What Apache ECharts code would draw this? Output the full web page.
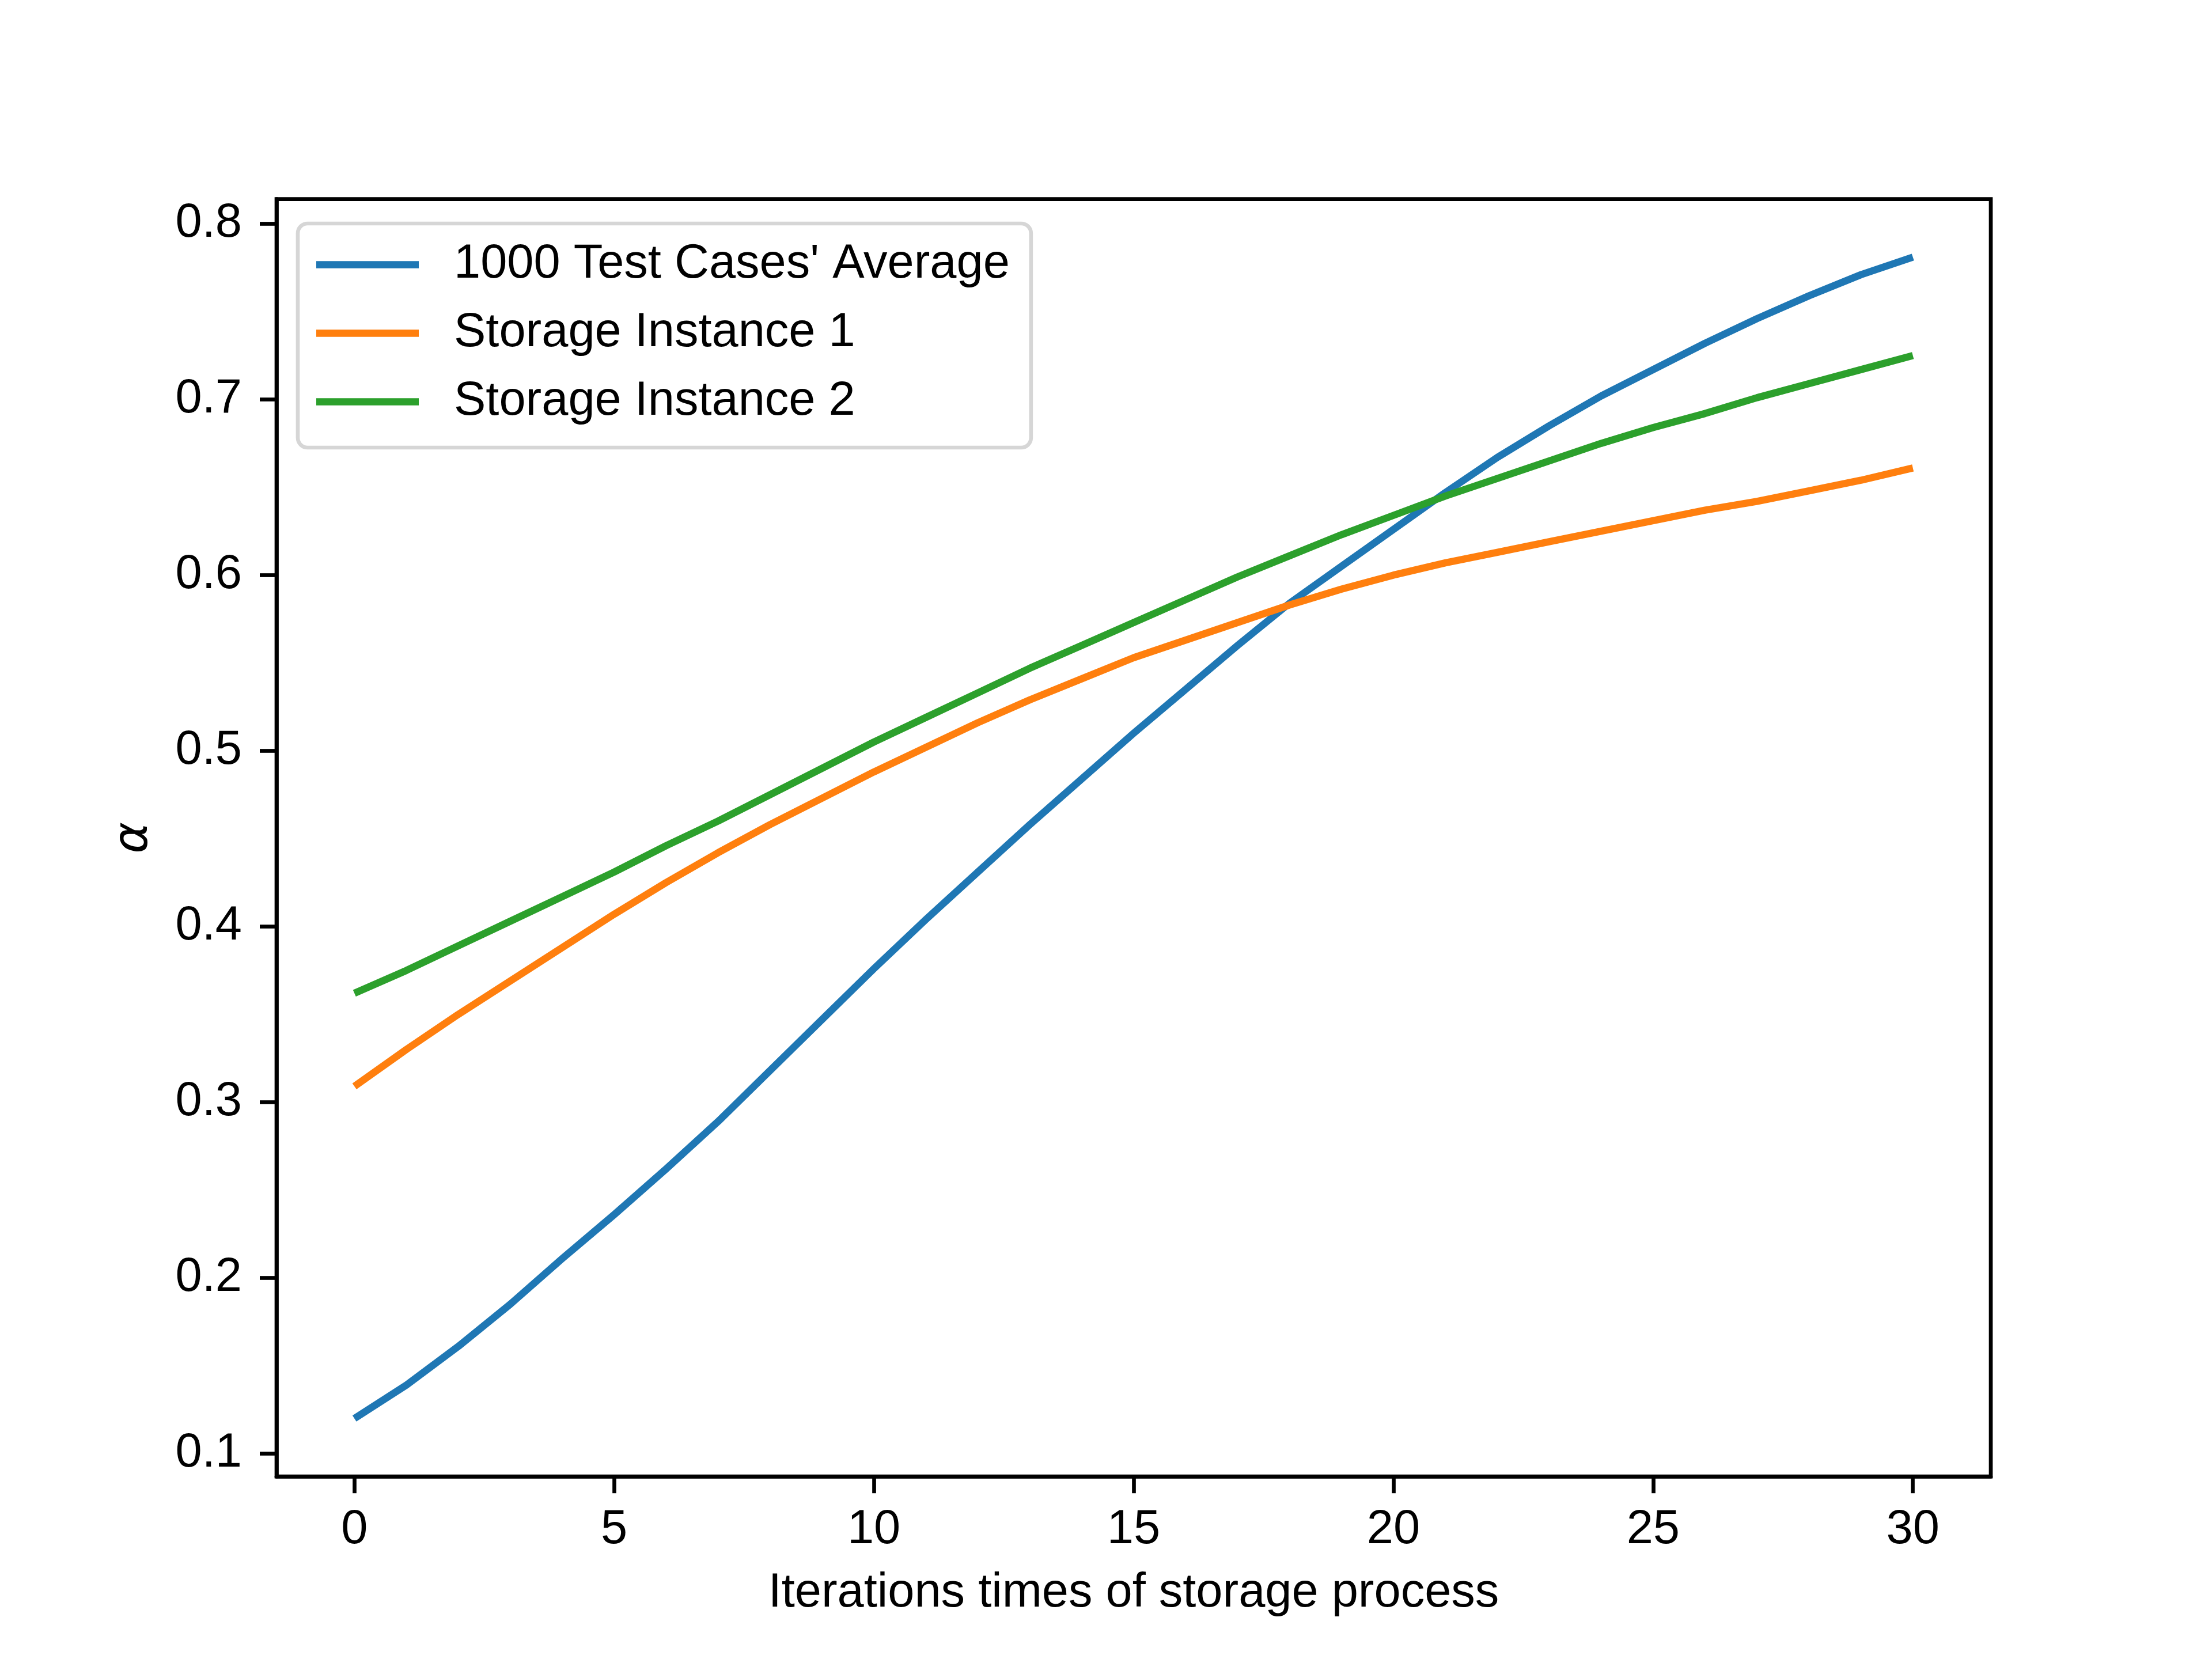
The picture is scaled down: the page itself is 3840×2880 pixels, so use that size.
<!DOCTYPE html>
<html>
<head>
<meta charset="utf-8">
<style>
  html, body { margin: 0; padding: 0; background: #fff; }
  #container { width: 3840px; height: 2880px; }
</style>
<script src="https://cdn.jsdelivr.net/npm/echarts@6/dist/echarts.min.js"></script>
</head>
<body>
<div id="container"></div>
<script>
// iterations of the storage process (x axis)
var iterations = [0, 1, 2, 3, 4, 5, 6, 7, 8, 9, 10, 11, 12, 13, 14, 15,
                  16, 17, 18, 19, 20, 21, 22, 23, 24, 25, 26, 27, 28, 29, 30];

var avgCases = [0.120, 0.139, 0.161, 0.185, 0.211, 0.236, 0.262, 0.289, 0.318, 0.347,
                0.376, 0.404, 0.431, 0.458, 0.484, 0.510, 0.535, 0.560, 0.584, 0.605,
                0.626, 0.647, 0.667, 0.685, 0.702, 0.717, 0.732, 0.746, 0.759, 0.771, 0.781];

var instance1 = [0.309, 0.330, 0.350, 0.369, 0.388, 0.407, 0.425, 0.442, 0.458, 0.473,
                 0.488, 0.502, 0.516, 0.529, 0.541, 0.553, 0.563, 0.573, 0.583, 0.592,
                 0.600, 0.607, 0.613, 0.619, 0.625, 0.631, 0.637, 0.642, 0.648, 0.654, 0.661];

var instance2 = [0.362, 0.375, 0.389, 0.403, 0.417, 0.431, 0.446, 0.460, 0.475, 0.490,
                 0.505, 0.519, 0.533, 0.547, 0.560, 0.573, 0.586, 0.599, 0.611, 0.623,
                 0.634, 0.645, 0.655, 0.665, 0.675, 0.684, 0.692, 0.701, 0.709, 0.717, 0.725];

var seriesNames = ["1000 Test Cases' Average", 'Storage Instance 1', 'Storage Instance 2'];
var seriesColors = ['#1f77b4', '#ff7f0e', '#2ca02c'];

var xTicks = [0, 5, 10, 15, 20, 25, 30];
var yTicks = [0.1, 0.2, 0.3, 0.4, 0.5, 0.6, 0.7, 0.8];

var font = 'Liberation Sans';

function pairs(ys) {
    return iterations.map(function (x, i) { return [x, ys[i]]; });
}

function makeSeries(name, ys, color) {
    return {
        name: name,
        type: 'line',
        data: pairs(ys),
        symbol: 'none',
        smooth: false,
        lineStyle: { color: color, width: 12.5, join: 'round' },
        itemStyle: { color: color },
        emphasis: { disabled: true }
    };
}

var dom = document.getElementById('container');
var myChart = echarts.init(dom, null, { renderer: 'canvas' });

var option = {
    animation: false,
    backgroundColor: '#ffffff',
    grid: {
        left: 480,
        right: 384,
        top: 345.6,
        bottom: 316.8,
        show: true,
        borderColor: '#000',
        borderWidth: 6.67,
        backgroundColor: 'transparent'
    },
    legend: {
        orient: 'vertical',
        left: 517,
        top: 388,
        padding: [30, 37, 38, 32],
        itemGap: 36,
        itemWidth: 178,
        itemHeight: 12.5,
        icon: 'rect',
        selectedMode: false,
        backgroundColor: 'rgba(255,255,255,0.8)',
        borderColor: '#d6d6d6',
        borderWidth: 6.67,
        borderRadius: 17,
        textStyle: {
            fontFamily: font,
            fontSize: 83,
            lineHeight: 83,
            color: '#000',
            padding: [0, 0, 0, 56]
        },
        data: seriesNames
    },
    xAxis: {
        type: 'value',
        min: -1.5,
        max: 31.5,
        name: 'Iterations times of storage process',
        nameLocation: 'middle',
        nameGap: 161,
        nameTextStyle: { fontFamily: font, fontSize: 83, color: '#000' },
        axisLine: { show: true, onZero: false, lineStyle: { color: '#000', width: 6.67 } },
        axisTick: {
            show: true, inside: false, length: 29,
            customValues: xTicks,
            lineStyle: { color: '#000', width: 6.67 }
        },
        axisLabel: {
            customValues: xTicks,
            margin: 51,
            fontFamily: font,
            fontSize: 83,
            color: '#000',
            formatter: function (v) { return String(v); }
        },
        splitLine: { show: false }
    },
    yAxis: {
        type: 'value',
        min: 0.08695,
        max: 0.81405,
        name: 'α',
        nameLocation: 'middle',
        nameGap: 205,
        nameTextStyle: { fontFamily: 'DejaVu Sans', fontStyle: 'italic', fontSize: 83, color: '#000' },
        axisLine: { show: true, onZero: false, lineStyle: { color: '#000', width: 6.67 } },
        axisTick: {
            show: true, inside: false, length: 29,
            customValues: yTicks,
            lineStyle: { color: '#000', width: 6.67 }
        },
        axisLabel: {
            customValues: yTicks,
            margin: 60,
            fontFamily: font,
            fontSize: 83,
            color: '#000',
            formatter: function (v) { return v.toFixed(1); }
        },
        splitLine: { show: false }
    },
    series: [
        makeSeries(seriesNames[0], avgCases, seriesColors[0]),
        makeSeries(seriesNames[1], instance1, seriesColors[1]),
        makeSeries(seriesNames[2], instance2, seriesColors[2])
    ]
};

if (option && typeof option === 'object') {
    myChart.setOption(option);
}

window.addEventListener('resize', function () {
    if (myChart != null && myChart != undefined) {
        myChart.resize();
    }
});
</script>
</body>
</html>
